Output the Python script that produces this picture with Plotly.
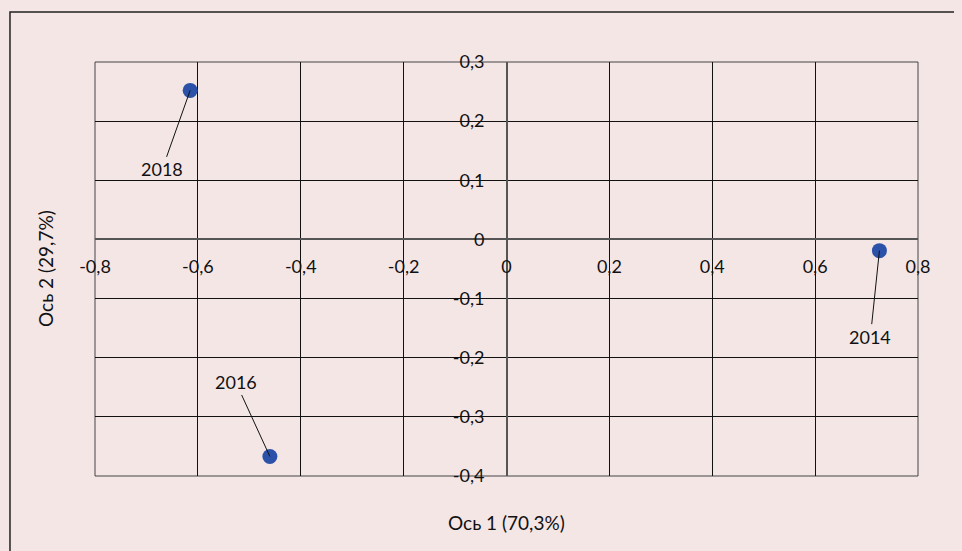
"""
PCA biplot of years: two principal axes, one point per year.
"""
import plotly.graph_objects as go

years = ["2018", "2016", "2014"]
axis1 = [-0.615, -0.46, 0.725]
axis2 = [0.252, -0.367, -0.019]

# label offsets in pixels (from the point to the label)
label_dx = [-28, -34, -9]
label_dy = [79, -74, 86]

x_ticks = [-0.8, -0.6, -0.4, -0.2, 0, 0.2, 0.4, 0.6, 0.8]
x_ticktext = ["-0,8", "-0,6", "-0,4", "-0,2", "0", "0,2", "0,4", "0,6", "0,8"]
y_ticks = [-0.4, -0.3, -0.2, -0.1, 0, 0.1, 0.2, 0.3]
y_ticktext = ["-0,4", "-0,3", "-0,2", "-0,1", "0", "0,1", "0,2", "0,3"]

BG = "#F5E6E6"
FONT = dict(family="Lato, 'Open Sans', sans-serif", size=18, color="#111111")

fig = go.Figure(
    go.Scatter(
        x=axis1,
        y=axis2,
        mode="markers",
        marker=dict(size=15, color="#2B52A8"),
        hoverinfo="skip",
    )
)

for yr, x, y, dx, dy in zip(years, axis1, axis2, label_dx, label_dy):
    fig.add_annotation(
        x=x, y=y, text=yr, showarrow=True, arrowhead=0, arrowwidth=1,
        arrowcolor="#111111", ax=dx, ay=dy, standoff=0, startstandoff=0,
        font=FONT,
    )

# axis titles
fig.add_annotation(
    x=0.5, y=0, xref="paper", yref="paper", yshift=-46, showarrow=False,
    xanchor="center", yanchor="middle",
    text="Ось 1 (70,3%)", font=dict(FONT, size=19),
)
fig.add_annotation(
    x=0, y=0.5, xref="paper", yref="paper", xshift=-50, showarrow=False,
    xanchor="center", yanchor="middle",
    text="Ось 2 (29,7%)", textangle=-90, font=dict(FONT, size=19),
)

# outer chart border: only the left and top edges fall inside the picture
fig.add_shape(
    type="path", xref="paper", yref="paper",
    path="M -0.1033,-0.2 L -0.1033,1.1208 L 1.052,1.1208",
    line=dict(color="#222222", width=1.5), layer="below",
)
# plot-area frame (gridlines at the range edges)
fig.add_shape(
    type="rect", xref="paper", yref="paper", x0=0, x1=1, y0=0, y1=1,
    line=dict(color="#444444", width=1), layer="below",
)

fig.update_xaxes(
    range=[-0.8, 0.8], tickvals=x_ticks, ticktext=x_ticktext,
    showgrid=True, gridcolor="#111111", gridwidth=1,
    zeroline=True, zerolinecolor="#555555", zerolinewidth=1.5,
    anchor="free", position=0.4 / 0.7, ticks="", ticklabelstandoff=15,
    tickfont=FONT, showline=False,
)
fig.update_yaxes(
    range=[-0.4, 0.3], tickvals=y_ticks, ticktext=y_ticktext,
    showgrid=True, gridcolor="#111111", gridwidth=1,
    zeroline=True, zerolinecolor="#555555", zerolinewidth=1.5,
    anchor="free", position=0.5, ticks="", ticklabelstandoff=22,
    tickfont=FONT, showline=False,
)

fig.update_layout(
    width=954, height=543,
    margin=dict(l=87, r=44, t=54, b=75),
    paper_bgcolor=BG, plot_bgcolor=BG,
    showlegend=False, separators=", ",
)

fig.write_html(
    "out.html",
    post_script=(
        f"document.body.style.background='{BG}';"
        "document.body.style.overflow='hidden';"
    ),
)
